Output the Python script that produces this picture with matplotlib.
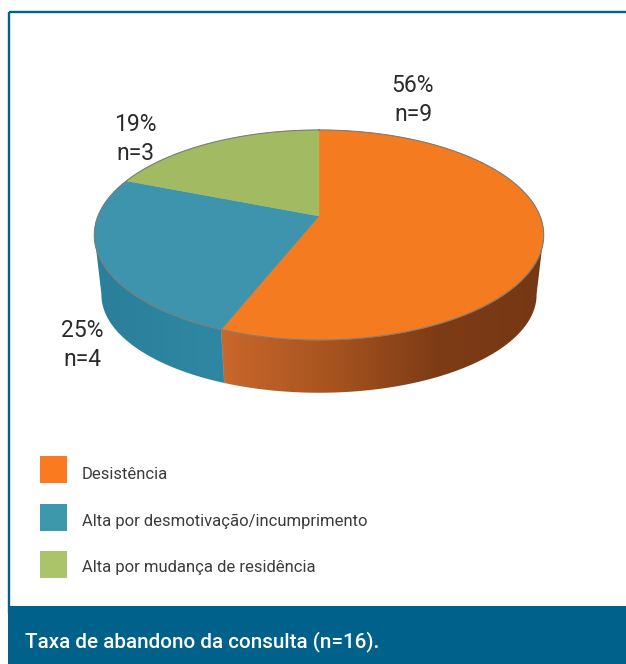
import numpy as np
import matplotlib
matplotlib.use("Agg")
from matplotlib import pyplot as plt
from matplotlib.patches import Polygon, Rectangle

plt.rcParams['font.family'] = ['Roboto', 'Liberation Sans', 'DejaVu Sans']

# Data
categories = ["Desistência", "Alta por desmotivação/incumprimento", "Alta por mudança de residência"]
percent = [56, 25, 19]
counts = [9, 4, 3]
title = "Taxa de abandono da consulta (n=16)."

top_colors = ["#f47b20", "#3e93ad", "#a2bb63"]
legend_colors = ["#f97a1f", "#3d97ad", "#abc46a"]
wall_colors = [["#c8682c", "#a8541f", "#7e3c16", "#763714"], ["#2a7f9a", "#2f88a3"]]
dark_blue = "#00628a"


def project(angle, cx, cy, c, b, a=0.181):
    # angle in degrees, clockwise from the back of the disc, with perspective
    t = np.radians(angle)
    u, v = np.sin(t), np.cos(t)
    d = 1 + a * v
    return np.column_stack([cx + c * u / d, cy - b * v / d])


def top_face(angle):
    return project(angle, 319, 216, 221, 101.6)


def low_face(angle):
    return project(angle, 319, 277, 214, 94.8)


def draw_wall(ax, start, stop, colors):
    arc = np.linspace(start, stop, 120)
    outline = np.vstack([top_face(arc), low_face(arc[::-1])])
    poly = Polygon(outline, closed=True, fc="none", ec="none")
    ax.add_patch(poly)
    x0, x1 = outline[:, 0].min(), outline[:, 0].max()
    cmap = matplotlib.colors.LinearSegmentedColormap.from_list("wall", colors)
    img = ax.imshow(np.linspace(0, 1, 256).reshape(1, -1), cmap=cmap, aspect="auto",
                    extent=[x0, x1, 420, 200], zorder=2)
    img.set_clip_path(poly)


fig = plt.figure(figsize=(6.26, 6.64), dpi=100)
ax = fig.add_axes([0, 0, 1, 1])

# Side of the disc, only the front part shows (100 and 260 are the silhouette angles)
bounds = np.cumsum([0] + percent) * 3.6
draw_wall(ax, 100, bounds[1], wall_colors[0])
draw_wall(ax, bounds[1], 260, wall_colors[1])

ax.set_xlim(0, 626)
ax.set_ylim(664, 0)
ax.axis("off")

# Top of the disc
for i in range(len(percent)):
    arc = np.linspace(bounds[i], bounds[i + 1], 150)
    pts = np.vstack([[319, 216], top_face(arc)])
    ax.add_patch(Polygon(pts, closed=True, fc=top_colors[i], ec=top_colors[i], lw=0.4, zorder=3))
rim = top_face(np.linspace(0, 360, 500))
ax.plot(rim[:, 0], rim[:, 1], color="#7d7d78", lw=0.8, zorder=4)
seam = np.vstack([top_face(bounds[1]), low_face(bounds[1])])
ax.plot(seam[:, 0], seam[:, 1], color="#8a7f78", lw=0.5, zorder=4)

# Value labels
label_pos = [(413, 100), (82, 345), (135, 139)]
for i in range(len(percent)):
    ax.text(label_pos[i][0], label_pos[i][1], f"{percent[i]}%\nn={counts[i]}", ha="center", va="center",
            fontsize=16.5, color="#2b2b2b", linespacing=1.36, zorder=5)

# Legend
legend_y = [456, 504, 551]
legend_base = [479, 526, 572]
for i in range(len(categories)):
    ax.add_patch(Rectangle((40, legend_y[i]), 27, 27, fc=legend_colors[i], ec="none", zorder=3))
    ax.text(82, legend_base[i], categories[i], ha="left", va="baseline", fontsize=12,
            color="#3c3c3c", zorder=5)

# Frame and caption band
ax.add_patch(Rectangle((9.2, 12.2), 640, 600, fc="none", ec=dark_blue, lw=1.7, zorder=6))
ax.add_patch(Rectangle((7.7, 606), 640, 70, fc=dark_blue, ec="none", zorder=7))
ax.text(25, 647, title, ha="left", va="baseline", fontsize=14.9, fontweight=500, color="white", zorder=8)

fig.savefig("out.png", dpi=100)
